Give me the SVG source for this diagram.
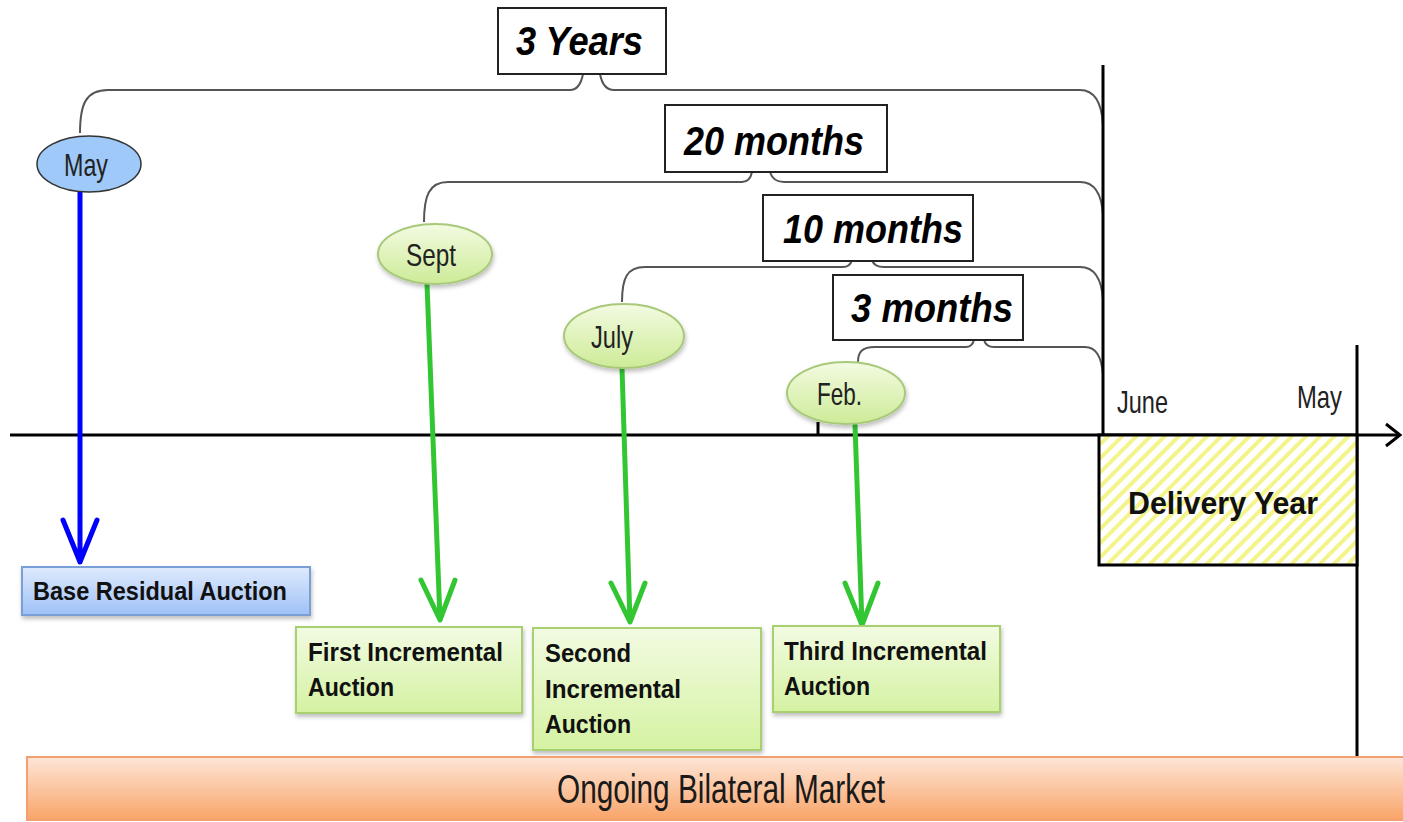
<svg xmlns="http://www.w3.org/2000/svg" width="1403" height="822" viewBox="0 0 1403 822">
<style>
.brace{fill:none;stroke:#555;stroke-width:2}
.dur{fill:#fff;stroke:#222;stroke-width:2}
.durt{font-family:"Liberation Sans",Arial,sans-serif;font-weight:bold;font-style:italic;font-size:41px;fill:#000}
.mon{font-family:"Liberation Sans Narrow","Liberation Sans",Arial,sans-serif;font-size:32px;fill:#222}
.gell{fill:url(#gG);stroke:#a9c97a;stroke-width:2}
.gbox{fill:url(#gB);stroke:#a8d070;stroke-width:2}
.bt{font-family:"Liberation Sans",Arial,sans-serif;font-weight:bold;font-size:26px;fill:#111}
.garr{fill:none;stroke:#33c633;stroke-width:5;stroke-linecap:round;stroke-linejoin:round}
.barr{fill:none;stroke:#0000ff;stroke-width:5;stroke-linecap:round;stroke-linejoin:round}
.axis{fill:none;stroke:#000;stroke-width:3}
</style>
<defs>
<linearGradient id="gG" x1="0" y1="0" x2="0" y2="1"><stop offset="0" stop-color="#f3fbe2"/><stop offset="1" stop-color="#cdeb97"/></linearGradient>
<linearGradient id="gB" x1="0" y1="0" x2="0" y2="1"><stop offset="0" stop-color="#f2fbe2"/><stop offset="1" stop-color="#d5f2a2"/></linearGradient>
<linearGradient id="gBlue" x1="0" y1="0" x2="0" y2="1"><stop offset="0" stop-color="#dfeafd"/><stop offset="1" stop-color="#9ec1f6"/></linearGradient>
<linearGradient id="gO" x1="0" y1="0" x2="0" y2="1"><stop offset="0" stop-color="#fde6d8"/><stop offset="1" stop-color="#f9a468"/></linearGradient>
<pattern id="hatch" width="10" height="10" patternUnits="userSpaceOnUse" patternTransform="rotate(45)">
<rect width="10" height="10" fill="#fff"/><rect width="4" height="10" fill="#f4f48a"/>
</pattern>
<filter id="sh" x="-10%" y="-10%" width="120%" height="130%"><feDropShadow dx="1" dy="3" stdDeviation="2" flood-color="#000" flood-opacity="0.25"/></filter>
</defs>

<g id="connectors">
<path class="brace" d="M80,133 C80,104 86,90 108,90 L570,90 Q580,90 583,74 M600,74 Q603,90 614,90 L1080,90 Q1101,90 1103,125"/>
<path class="brace" d="M424,222 C424,196 429,182 448,182 L742,182 Q750,182 752,172 M770,172 Q773,182 784,182 L1080,182 Q1101,182 1103,215"/>
<path class="brace" d="M622,302 C622,278 627,267 645,267 L843,267 Q850,267 852,260 M872,260 Q874,267 884,267 L1080,267 Q1101,267 1103,300"/>
<path class="brace" d="M858,362 C858,352 862,347 875,347 L966,347 Q972,347 974,340 M984,340 Q986,347 994,347 L1085,347 Q1101,347 1103,375"/>
<line class="axis" x1="1103" y1="65" x2="1103" y2="435"/>
<line class="axis" x1="10" y1="435" x2="1398" y2="435"/>
<polyline class="axis" points="1386,424 1400,435 1386,446"/>
<line class="axis" x1="818" y1="422" x2="818" y2="435" stroke-width="5"/>
<line class="axis" x1="1357" y1="345" x2="1357" y2="757"/>
<path class="barr" d="M80,192 L80,562 M63,520 L80,562 L97,520"/>
<path class="garr" d="M427,284 L440,620 M421,580 L440,620 L455,580"/>
<path class="garr" d="M622,368 L630,622 M611,583 L630,622 L645,583"/>
<path class="garr" d="M855,425 L862,625 M845,583 L862,625 L878,583"/>
</g>

<g id="dur-3y"><rect class="dur" x="498" y="8" width="168" height="66"/><text class="durt" x="516" y="55" textLength="127" lengthAdjust="spacingAndGlyphs">3 Years</text></g>
<g id="dur-20m"><rect class="dur" x="665" y="105" width="222" height="67"/><text class="durt" x="684" y="155" textLength="180" lengthAdjust="spacingAndGlyphs">20 months</text></g>
<g id="dur-10m"><rect class="dur" x="763" y="195" width="210" height="66"/><text class="durt" x="783" y="243" textLength="180" lengthAdjust="spacingAndGlyphs">10 months</text></g>
<g id="dur-3m"><rect class="dur" x="833" y="275" width="190" height="65"/><text class="durt" x="851" y="322" textLength="162" lengthAdjust="spacingAndGlyphs">3 months</text></g>

<g id="may"><ellipse cx="89" cy="164" rx="52" ry="28" fill="#9ec9f8" stroke="#333" stroke-width="1.5"/><text class="mon" x="64" y="176" textLength="44" lengthAdjust="spacingAndGlyphs">May</text></g>
<g id="sept"><ellipse class="gell" cx="435" cy="254" rx="57" ry="30" filter="url(#sh)"/><text class="mon" x="406" y="266" textLength="50" lengthAdjust="spacingAndGlyphs">Sept</text></g>
<g id="july"><ellipse class="gell" cx="624" cy="336" rx="60" ry="32" filter="url(#sh)"/><text class="mon" x="591" y="348" textLength="42" lengthAdjust="spacingAndGlyphs">July</text></g>
<g id="feb"><ellipse class="gell" cx="846" cy="393" rx="59" ry="31" filter="url(#sh)"/><text class="mon" x="817" y="405" textLength="45" lengthAdjust="spacingAndGlyphs">Feb.</text></g>

<g id="bra"><rect x="22" y="567" width="288" height="48" fill="url(#gBlue)" stroke="#7a9fd6" stroke-width="2" filter="url(#sh)"/><text class="bt" x="33" y="600" textLength="254" lengthAdjust="spacingAndGlyphs">Base Residual Auction</text></g>
<g id="first"><rect class="gbox" x="296" y="627" width="226" height="86" filter="url(#sh)"/><text class="bt" x="308" y="661" textLength="195" lengthAdjust="spacingAndGlyphs">First Incremental</text><text class="bt" x="308" y="696" textLength="86" lengthAdjust="spacingAndGlyphs">Auction</text></g>
<g id="second"><rect class="gbox" x="533" y="628" width="228" height="122" filter="url(#sh)"/><text class="bt" x="545" y="662" textLength="86" lengthAdjust="spacingAndGlyphs">Second</text><text class="bt" x="545" y="698" textLength="136" lengthAdjust="spacingAndGlyphs">Incremental</text><text class="bt" x="545" y="733" textLength="86" lengthAdjust="spacingAndGlyphs">Auction</text></g>
<g id="third"><rect class="gbox" x="773" y="626" width="227" height="86" filter="url(#sh)"/><text class="bt" x="784" y="660" textLength="203" lengthAdjust="spacingAndGlyphs">Third Incremental</text><text class="bt" x="784" y="695" textLength="86" lengthAdjust="spacingAndGlyphs">Auction</text></g>

<g id="delivery"><rect x="1099" y="435" width="258" height="130" fill="url(#hatch)" stroke="#000" stroke-width="3"/><text x="1128" y="514" font-family="'Liberation Sans',Arial,sans-serif" font-weight="bold" font-size="32" fill="#111" textLength="190" lengthAdjust="spacingAndGlyphs">Delivery Year</text></g>
<g id="june-label"><text class="mon" x="1117" y="413" textLength="51" lengthAdjust="spacingAndGlyphs">June</text></g>
<g id="may-label"><text class="mon" x="1297" y="408" textLength="45" lengthAdjust="spacingAndGlyphs">May</text></g>

<g id="bilateral"><rect x="27" y="757" width="1380" height="63" fill="url(#gO)" stroke="#f2a070" stroke-width="2"/><text x="557" y="803" font-family="'Liberation Sans Narrow','Liberation Sans',Arial,sans-serif" font-size="40" fill="#1a1a1a" textLength="328" lengthAdjust="spacingAndGlyphs">Ongoing Bilateral Market</text></g>
</svg>
